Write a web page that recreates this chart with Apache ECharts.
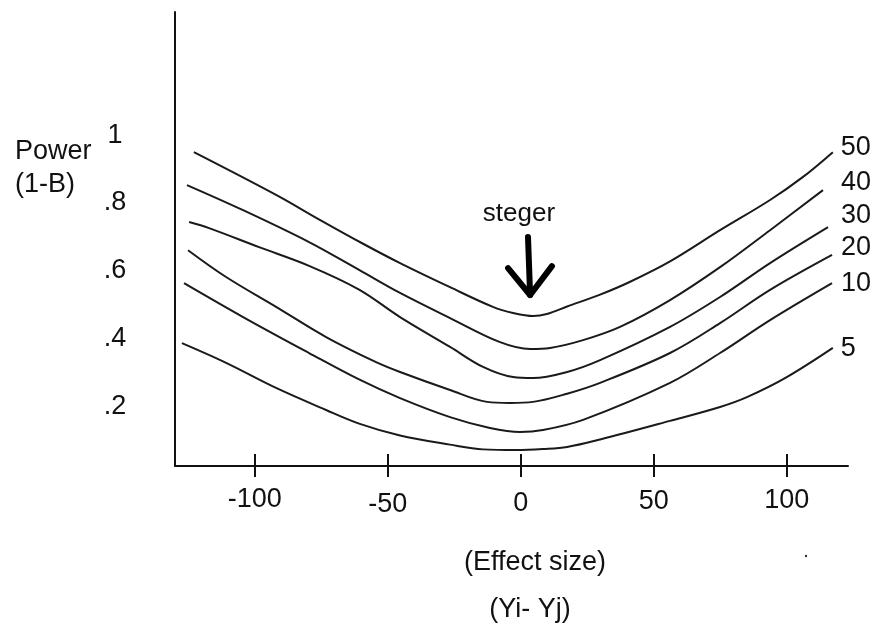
<!DOCTYPE html>
<html>
<head>
<meta charset="utf-8">
<title>Power curves</title>
<script src="https://cdn.jsdelivr.net/npm/echarts@6/dist/echarts.min.js"></script>
<style>
  html, body { margin: 0; padding: 0; background: #fff; }
  #chart { width: 883px; height: 634px; }
</style>
</head>
<body>
<div id="chart"></div>
<script>
// Power (1-B) against effect size (Yi - Yj), one curve per sample size n.
const sampleSizes = ['50', '40', '30', '20', '10', '5'];

const power50 = [[-122.9,0.950],[-92.0,0.824],[-75.9,0.752],[-59.3,0.680],[-45.4,0.623],[-26.6,0.552],[-10.5,0.494],[-2.9,0.476],[4.6,0.467],[9.8,0.473],[17.4,0.495],[29.8,0.530],[41.1,0.568],[56.1,0.628],[74.9,0.720],[93.7,0.809],[106.1,0.877],[117.3,0.950]];
const power40 = [[-125.5,0.853],[-104.4,0.779],[-79.6,0.685],[-60.8,0.603],[-45.4,0.535],[-26.6,0.461],[-7.8,0.390],[3.5,0.370],[11.0,0.373],[23.4,0.396],[37.3,0.435],[56.1,0.514],[74.9,0.611],[93.7,0.720],[113.6,0.838]];
const power30 = [[-124.7,0.744],[-117.2,0.726],[-98.4,0.670],[-79.6,0.615],[-60.8,0.545],[-45.4,0.464],[-26.6,0.376],[-14.2,0.317],[-2.9,0.287],[4.6,0.284],[17.4,0.302],[29.8,0.337],[56.1,0.435],[74.9,0.523],[93.7,0.623],[115.5,0.729]];
const power20 = [[-125.1,0.661],[-110.8,0.582],[-92.0,0.494],[-73.2,0.405],[-54.4,0.331],[-45.4,0.302],[-26.6,0.249],[-12.7,0.214],[-4.1,0.211],[4.6,0.214],[17.4,0.238],[29.8,0.270],[56.1,0.358],[74.9,0.446],[93.7,0.544],[117.0,0.647]];
const power10 = [[-126.6,0.564],[-104.4,0.464],[-79.6,0.358],[-60.8,0.280],[-45.4,0.225],[-26.6,0.169],[-11.6,0.137],[-0.3,0.125],[8.3,0.131],[23.4,0.161],[56.1,0.270],[74.9,0.358],[93.7,0.455],[117.0,0.564]];
const power5 = [[-127.4,0.387],[-110.8,0.329],[-92.0,0.255],[-73.2,0.190],[-60.8,0.150],[-45.4,0.115],[-26.6,0.088],[-14.2,0.074],[-1.4,0.072],[8.3,0.075],[17.4,0.081],[29.8,0.103],[56.1,0.158],[74.9,0.199],[85.0,0.228],[100.0,0.287],[117.3,0.373]];

const curves = [power50, power40, power30, power20, power10, power5];

// Arrow pointing at the minimum of the n = 50 curve
const arrowShaft = [[2.7,0.700],[3.5,0.529]];
const arrowHead = [[-4.8,0.608],[3.5,0.529],[11.7,0.614]];

const xTicks = [-100, -50, 0, 50, 100];
const yTicks = [0.2, 0.4, 0.6, 0.8, 1];

const FONT = "'Liberation Sans', Arial, sans-serif";
const INK = '#111';

// where each curve's n label sits relative to the curve's end
const endLabelOffsets = {
  '50': [0, -5], '40': [10, -8], '30': [5, -12],
  '20': [1, -7], '10': [1, 0], '5': [0, 1]
};

// the hand-lettered tick labels do not sit on one baseline
const xLabelDrop = { '-100': 0, '-50': 10, '0': 8, '50': 4, '100': 2 };

const chart = echarts.init(document.getElementById('chart'), null, { renderer: 'canvas' });

const curveSeries = sampleSizes.map((n, i) => ({
  name: n,
  type: 'line',
  data: curves[i],
  smooth: 0.35,
  showSymbol: false,
  symbol: 'none',
  lineStyle: { color: '#1a1a1a', width: 2 },
  endLabel: {
    show: true,
    formatter: '{a}',
    color: INK,
    fontFamily: FONT,
    fontSize: 27,
    offset: endLabelOffsets[n]
  },
  silent: true,
  z: 3
}));

const arrowStyle = { color: '#000', width: 6, cap: 'round', join: 'round' };

const xLabelRich = {};
xTicks.forEach((v, i) => {
  xLabelRich['t' + i] = {
    color: INK,
    fontFamily: FONT,
    fontSize: 27,
    lineHeight: 27,
    padding: [xLabelDrop[String(v)], 0, 0, 0]
  };
});

const option = {
  animation: false,
  backgroundColor: '#fff',
  grid: { left: 175, right: 35, top: 12, bottom: 168 },
  xAxis: [
    {
      type: 'value',
      min: -130,
      max: 123,
      axisLine: { show: true, onZero: false, lineStyle: { color: INK, width: 2 } },
      axisTick: { show: true, inside: false, length: 11, customValues: xTicks, lineStyle: { color: INK, width: 2 } },
      axisLabel: {
        show: true,
        customValues: xTicks,
        margin: 20,
        formatter: v => '{t' + xTicks.indexOf(v) + '|' + v + '}',
        rich: xLabelRich,
        color: INK,
        fontFamily: FONT,
        fontSize: 27,
        lineHeight: 27
      },
      splitLine: { show: false }
    },
    {
      // upper half of the cross-shaped ticks
      type: 'value',
      position: 'bottom',
      min: -130,
      max: 123,
      axisLine: { show: false, onZero: false },
      axisTick: { show: true, inside: true, length: 12, customValues: xTicks, lineStyle: { color: INK, width: 2 } },
      axisLabel: { show: false },
      splitLine: { show: false }
    }
  ],
  yAxis: {
    type: 'value',
    min: 0.025,
    max: 1.363,
    axisLine: { show: true, onZero: false, lineStyle: { color: INK, width: 2 } },
    axisTick: { show: false },
    axisLabel: {
      show: true,
      customValues: yTicks,
      formatter: v => (v === 1 ? '1' : '.' + Math.round(v * 10)),
      align: 'center',
      margin: 60,
      color: INK,
      fontFamily: FONT,
      fontSize: 27
    },
    splitLine: { show: false }
  },
  series: curveSeries.concat([
    {
      name: 'arrow-shaft',
      type: 'line',
      data: arrowShaft,
      showSymbol: false,
      symbol: 'none',
      lineStyle: arrowStyle,
      silent: true,
      z: 4
    },
    {
      name: 'arrow-head',
      type: 'line',
      data: arrowHead,
      showSymbol: false,
      symbol: 'none',
      lineStyle: arrowStyle,
      silent: true,
      z: 4
    }
  ]),
  graphic: [
    { type: 'text', style: { x: 15, y: 152, text: 'Power', fill: INK, font: '27px ' + FONT, verticalAlign: 'middle', align: 'left' } },
    { type: 'text', style: { x: 15, y: 185, text: '(1-B)', fill: INK, font: '27px ' + FONT, verticalAlign: 'middle', align: 'left' } },
    { type: 'text', style: { x: 519, y: 214, text: 'steger', fill: INK, font: '26px ' + FONT, verticalAlign: 'middle', align: 'center' } },
    { type: 'text', style: { x: 535, y: 563, text: '(Effect size)', fill: INK, font: '27px ' + FONT, verticalAlign: 'middle', align: 'center' } },
    { type: 'text', style: { x: 530, y: 610, text: '(Yi- Yj)', fill: INK, font: '27px ' + FONT, verticalAlign: 'middle', align: 'center' } },
    { type: 'circle', shape: { cx: 806, cy: 556, r: 1.2 }, style: { fill: '#333' } }
  ]
};

chart.setOption(option);
</script>
</body>
</html>
